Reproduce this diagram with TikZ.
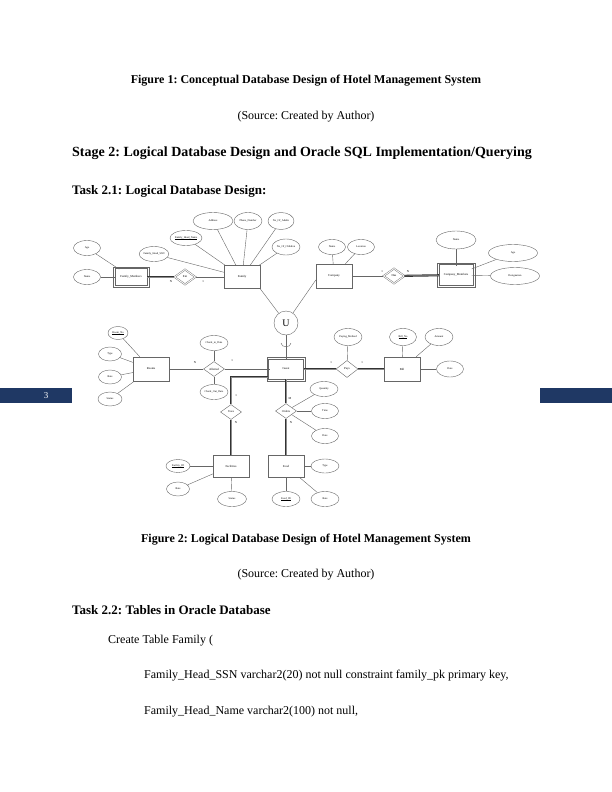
\documentclass[tikz,border=0pt]{standalone}
\usepackage{fontspec}
\setmainfont{Liberation Serif}
\usetikzlibrary{shapes.geometric}
\definecolor{barblue}{HTML}{1F3864}
\newcommand\keyname[1]{\setbox0\hbox{#1}\leavevmode\rlap{\vrule height -0.35pt depth 0.5pt width \wd0}\box0}
\tikzset{
  attr/.style={ellipse, draw=black!60, line width=0.4pt, minimum width=27pt, minimum height=15pt, inner sep=0pt, font=\fontsize{2.7}{3}\selectfont},
  ent/.style={rectangle, draw=black!60, line width=0.4pt, minimum width=36pt, minimum height=23pt, inner sep=0pt, font=\fontsize{3}{3.5}\selectfont},
  weakent/.style={ent, minimum width=33pt, minimum height=20pt},
  rel/.style={diamond, draw=black!60, line width=0.4pt, minimum width=21pt, minimum height=15pt, inner sep=0pt, font=\fontsize{3}{3.5}\selectfont},
  weakrel/.style={rel, double, double distance=0.9pt},
  link/.style={draw=black!60, line width=0.4pt},
  total/.style={draw=black!80, line width=0.8pt, double=black!45, double distance=0.5pt},
  card/.style={inner sep=0pt, font=\fontsize{3}{3.5}\selectfont},
  pagetext/.style={anchor=base, inner sep=0pt, font=\fontsize{12}{14}\selectfont},
  pagehead/.style={anchor=base west, inner sep=0pt, font=\bfseries\fontsize{13}{15}\selectfont}
}
\frenchspacing
\begin{document}
\begin{tikzpicture}[x=1pt, y=-1pt]
\useasboundingbox (0,0) rectangle (612,792);

\node[pagetext, font=\bfseries\fontsize{12}{14}\selectfont] (cap1) at (306,84) {Figure 1: Conceptual Database Design of Hotel Management System};
\node[pagetext] (src1) at (306,119) {(Source: Created by Author)};
\node[pagehead, font=\bfseries\fontsize{14}{16}\selectfont] (stage) at (72,156.5) {Stage 2: Logical Database Design and Oracle SQL Implementation/Querying};
\node[pagehead] (task1) at (72,194) {Task 2.1: Logical Database Design:};

\fill[barblue] (0,388) rectangle (72,403);
\fill[barblue] (540,388) rectangle (612,403);
\node[text=white, inner sep=0pt, font=\fontsize{9}{10}\selectfont] (pgno) at (46,395.5) {3};

% family side
\node[weakent, minimum width=32pt, minimum height=17pt] (fmem) at (131,277) {Family\_Members};
\node[attr] (fmage) at (87,248) {Age};
\node[attr] (fmname) at (87,277) {Name};
\node[weakrel] (ent) at (185,277) {Ent};
\node[ent] (fam) at (242,277) {Family};
\node[attr, minimum width=26pt] (fssn) at (154,254) {Family\_Head\_SSN};
\node[attr, minimum width=32pt] (fhname) at (186,238) {\keyname{Family\_Head\_Name}};
\node[attr, minimum width=40pt, minimum height=17pt] (faddr) at (213,221) {Address};
\node[attr, minimum width=28pt, minimum height=17pt] (fphone) at (248,221) {Phone\_Number};
\node[attr, minimum width=26pt, minimum height=17pt] (fadult) at (281,221) {No\_Of\_Adults};
\node[attr, minimum width=28pt, minimum height=16pt] (fchild) at (286,247) {No\_Of\_Children};

% company side
\node[ent, minimum height=24pt] (comp) at (334,276) {Company};
\node[attr] (cname) at (332,247) {Name};
\node[attr] (cloc) at (361,247) {Location};
\node[weakrel] (has) at (394,276) {Has};
\node[weakent, minimum width=34pt, minimum height=21pt] (cmem) at (456,275) {Company\_Members};
\node[attr, minimum width=40pt, minimum height=18pt] (cmname) at (456,240) {Name};
\node[attr, minimum width=49pt, minimum height=17pt] (cmage) at (513,253) {Age};
\node[attr, minimum width=49pt, minimum height=17pt] (cmdesig) at (515,276) {Designation};

% guest row
\node[circle, draw=black!60, line width=0.4pt, minimum size=24pt, inner sep=0pt, font=\fontsize{10}{10}\selectfont] (u) at (286,323) {U};
\coordinate (cup) at (286,345);
\node[weakent, minimum width=35pt, minimum height=20pt] (guest) at (286,369) {Guest};
\node[ent, minimum height=24pt] (rooms) at (151,369) {Rooms};
\node[attr, minimum width=20pt, minimum height=13pt] (roomno) at (118,333) {\keyname{Room\_No}};
\node[attr, minimum width=23pt, minimum height=14pt] (rtype) at (110,354) {Type};
\node[attr, minimum width=23pt, minimum height=14pt] (rrate) at (110,377) {Rate};
\node[attr, minimum width=24pt, minimum height=14pt] (rstatus) at (110,399) {Status};
\node[rel] (allot) at (214,369) {Allotted};
\node[attr, minimum width=28pt] (checkin) at (214,343) {Check\_in\_Date};
\node[attr, minimum width=28pt] (checkout) at (214,392) {Check\_Out\_Date};
\node[rel, minimum width=22pt, minimum height=17pt] (pays) at (347,369) {Pays};
\node[attr, minimum width=28pt, minimum height=17pt] (paymeth) at (348,337) {Paying\_Method};
\node[ent, minimum height=24pt] (bill) at (402,369) {Bill};
\node[attr, minimum height=17pt] (billno) at (403,337) {\keyname{Bill\_No}};
\node[attr, minimum width=28pt, minimum height=17pt] (amount) at (439,337) {Amount};
\node[attr, minimum height=16pt] (bdate) at (450,369) {Date};

% lower part
\node[rel] (uses) at (231,412) {Uses};
\node[rel] (orders) at (286,411) {Orders};
\node[attr, minimum width=28pt] (qty) at (324,389) {Quantity};
\node[attr] (otime) at (325,411) {Time};
\node[attr] (odate) at (325,436) {Date};
\node[ent, minimum height=22pt] (facil) at (231,466) {Facilities};
\node[attr, minimum width=24pt, minimum height=13pt] (facid) at (178,466) {\keyname{Facility\_ID}};
\node[attr, minimum width=23pt, minimum height=14pt] (frate) at (178,489) {Rate};
\node[attr, minimum width=29pt] (fstatus) at (232,499) {Status};
\node[ent, minimum height=22pt] (food) at (286,466) {Food};
\node[attr, minimum width=28pt, minimum height=14pt] (ftype) at (325,466) {Type};
\node[attr, minimum width=28pt] (foodrate) at (325,499) {Rate};
\node[attr, minimum width=28pt] (foodid) at (286,499) {\keyname{Food\_ID}};

\foreach \n in {fmem,cmem,guest}
  \draw[link] ([shift={(-1.6pt,-1.6pt)}]\n.south west) rectangle ([shift={(1.6pt,1.6pt)}]\n.north east);

\foreach \from/\to in {ent/fam,fssn/fam,fhname/fam,faddr/fam,fphone/fam,fadult/fam,fchild/fam,
  cname/comp,cloc/comp,comp/has,
  roomno/rooms,rtype/rooms,rrate/rooms,rstatus/rooms,rooms/allot,checkin/allot,checkout/allot,
  paymeth/pays,billno/bill,amount/bill,bdate/bill,qty/orders,otime/orders,odate/orders,
  facid/facil,frate/facil,fstatus/facil,ftype/food,foodrate/food,foodid/food}
  \draw[link] (\from) -- (\to);
\foreach \from/\to in {fmage/fmem,fmname/fmem,cmname/cmem,cmage/cmem,cmdesig/cmem,allot/guest,u/guest}
  \draw[link, shorten >=-1.6pt] (\from) -- (\to);

\foreach \from/\to in {fmem/ent,has/cmem,guest/pays,pays/bill,guest/orders,orders/food,uses/facil}
  \draw[total] (\from) -- (\to);
\draw[total] ([yshift=2pt]guest.south west) -| (uses);

\draw[link] (fam.south east) -- (u);
\draw[link] ([yshift=-4pt]comp.west) -- (u);
\draw[link] ([xshift=-5pt,yshift=2pt]cup) .. controls ([xshift=-5pt,yshift=-3pt]cup) and ([xshift=5pt,yshift=-3pt]cup) .. ([xshift=5pt,yshift=2pt]cup);

\node[card] (c1) at (171,282) {N};
\node[card] (c2) at (203,282) {1};
\node[card] (c3) at (382,272) {1};
\node[card] (c4) at (408,272) {N};
\node[card] (c5) at (195,363) {N};
\node[card] (c6) at (232,361) {1};
\node[card] (c7) at (331,363) {1};
\node[card] (c8) at (362,363) {1};
\node[card] (c9) at (236,396) {1};
\node[card] (c10) at (236,423) {N};
\node[card] (c11) at (290,399) {M};
\node[card] (c12) at (291,423) {N};

\node[pagetext, font=\bfseries\fontsize{12}{14}\selectfont] (cap2) at (306,542) {Figure 2: Logical Database Design of Hotel Management System};
\node[pagetext] (src2) at (306,577) {(Source: Created by Author)};
\node[pagehead] (task2) at (72,614) {Task 2.2: Tables in Oracle Database};
\node[pagetext, anchor=base west] (sql1) at (108,643) {Create Table Family (};
\node[pagetext, anchor=base west] (sql2) at (144,678) {Family\_Head\_SSN varchar2(20) not null constraint family\_pk primary key,};
\node[pagetext, anchor=base west] (sql3) at (144,714) {Family\_Head\_Name varchar2(100) not null,};
\end{tikzpicture}
\end{document}
